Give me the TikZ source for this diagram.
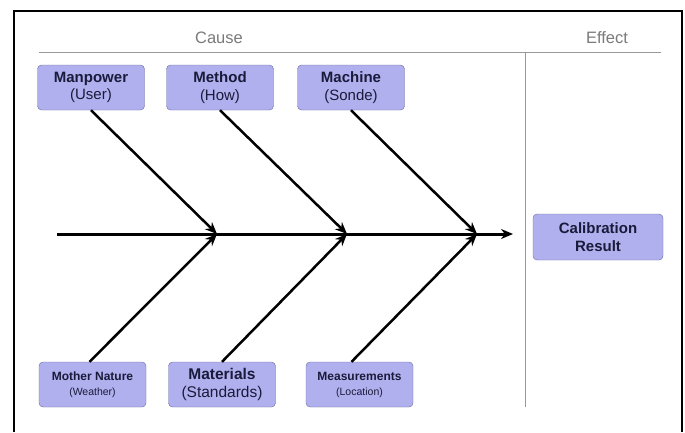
\documentclass[tikz,border=0pt]{standalone}
\usepackage{fontspec}
\setmainfont{Liberation Sans}
\usetikzlibrary{arrows.meta, positioning}

\definecolor{boxfill}{HTML}{B0B0EE}
\definecolor{boxline}{HTML}{6C6C9C}
\definecolor{boxtext}{HTML}{1A1A3A}
\definecolor{headgray}{HTML}{7A7A7A}

\begin{document}
\begin{tikzpicture}[
        x=1pt, y=-1pt,
        >={Stealth[length=12pt, width=10pt]},
        causebox/.style={draw=boxline, fill=boxfill, rounded corners=4pt,
            text=boxtext, align=center, minimum width=107pt, minimum height=45pt,
            inner sep=2pt, font=\fontsize{15}{17.5}\selectfont},
        smallbox/.style={causebox, font=\fontsize{12}{15}\selectfont},
        headlabel/.style={text=headgray, font=\fontsize{16.5}{18}\selectfont},
        divider/.style={draw=gray!80, line width=0.8pt},
        bone/.style={draw, line width=2.5pt, ->},
        spine/.style={draw, line width=3pt, ->},
    ]
        \useasboundingbox (0,0) rectangle (685,432);
        \draw[line width=1.3pt] (14,432) -- (14,11) -- (682,11) -- (682,432);

        % header
        \node[headlabel] (cause) at (219,38) {Cause};
        \node[headlabel] (effect) at (607,38) {Effect};
        \coordinate (hleft) at (39,52);
        \coordinate (hright) at (661,52);
        \coordinate (dtop) at (525,52);
        \coordinate (dbot) at (525,407);
        \draw[divider] (hleft) -- (hright);
        \draw[divider] (dtop) -- (dbot);

        % causes
        \node[causebox] (man) at (91,87.5) {\textbf{Manpower}\\(User)};
        \node[causebox] (meth) at (220,87.5) {\textbf{Method}\\(How)};
        \node[causebox] (mach) at (351,87.5) {\textbf{Machine}\\(Sonde)};
        \node[smallbox] (moth) at (92.5,384.5)
            {\textbf{Mother Nature}\\{\fontsize{10.5}{12}\selectfont(Weather)}};
        \node[causebox, font=\fontsize{15.5}{18}\selectfont] (mat) at (222,384.5)
            {\textbf{Materials}\\(Standards)};
        \node[smallbox] (meas) at (359.5,384.5)
            {\textbf{Measurements}\\{\fontsize{10.5}{12}\selectfont(Location)}};

        % effect
        \node[causebox, minimum width=130pt, minimum height=46pt,
            font=\bfseries\fontsize{15}{17.5}\selectfont] (res) at (598,237)
            {Calibration\\Result};

        % fish bone
        \coordinate (tail) at (57,234);
        \coordinate (head) at (513,234);
        \coordinate (j1) at (217,234);
        \coordinate (j2) at (347,234);
        \coordinate (j3) at (477,234);
        \path[spine] (tail) -- (head);

        \foreach \b/\s/\j in {man.south/0/j1, meth.south/0/j2, mach.south/0/j3,
                moth.north/-3/j1, mat.north/0/j2, meas.north/-8/j3}
            \path[bone] ([xshift=\s pt]\b) -- (\j);
    \end{tikzpicture}
\end{document}
